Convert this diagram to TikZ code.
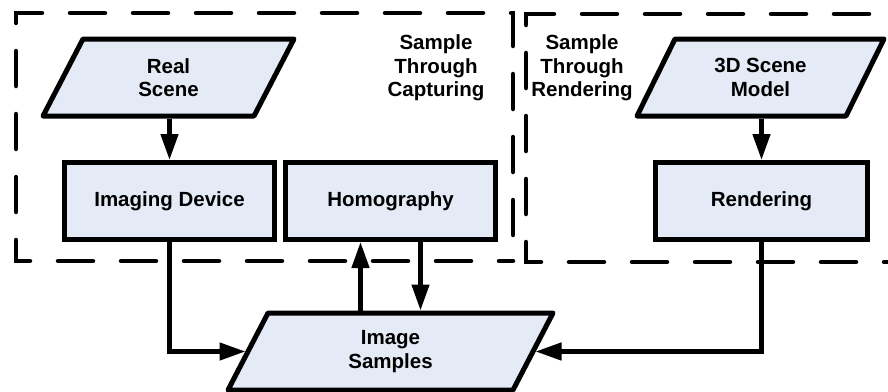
\documentclass[tikz,border=0pt]{standalone}
\usepackage{fontspec}
\setmainfont{Liberation Sans}
\usetikzlibrary{arrows.meta,backgrounds}
\definecolor{boxfill}{RGB}{228,234,246}
\begin{document}
\begin{tikzpicture}[x=1pt,y=-1pt,
  txt/.style={align=center, font=\bfseries\fontsize{20.5}{23.5}\selectfont},
  box/.style={txt, draw, line width=5pt, fill=boxfill, minimum width=210pt,
    minimum height=77pt, inner sep=0pt},
  para/.style={txt, inner sep=0pt, minimum height=77pt, outer sep=2.5pt},
  paradraw/.style={draw, line width=5pt, fill=boxfill, line join=round},
  conn/.style={line width=4.5pt, -{Triangle[length=26pt,width=17pt]}},
  group/.style={line width=4.5pt, dash pattern=on 35pt off 28pt, line cap=round},
]
\useasboundingbox (0,0) rectangle (888,391);

% group frames
\draw[group] (16,22) -- (16,13) -- (513,13) -- (513,261);
\draw[group, dash phase=34pt] (16,22) -- (16,261) -- (513,261);
\draw[group] (526,21) -- (526,14) -- (905,14);
\draw[group, dash phase=31pt] (526,21) -- (526,262) -- (905,262);

% nodes
\node[para, minimum width=211pt] (real) at (168.5,77.5) {Real\\Scene};
\node[para, minimum width=209pt] (model) at (760.5,77.5) {3D Scene\\Model};
\node[para, minimum width=285pt] (samples) at (390.5,351.5) {Image\\Samples};
\node[box] (imgdev) at (169.5,201) {Imaging Device};
\node[box] (homog) at (390.5,201) {Homography};
\node[box, minimum width=212pt] (render) at (761.5,201) {Rendering};

\node[txt] (capt) at (436,68) {Sample\\Through\\Capturing};
\node[txt] (rendlbl) at (582,68) {Sample\\Through\\Rendering};

% parallelogram outlines
\begin{scope}[on background layer]
\foreach \n/\s in {real/20, model/19, samples/20}{
  \draw[paradraw]
    ([xshift=\s pt, xshift=2.5pt, yshift=-2.5pt]\n.north west)
    -- ([xshift=\s pt, xshift=-2.5pt, yshift=-2.5pt]\n.north east)
    -- ([xshift=-\s pt, xshift=-2.5pt, yshift=2.5pt]\n.south east)
    -- ([xshift=-\s pt, xshift=2.5pt, yshift=2.5pt]\n.south west)
    -- cycle;
}
\end{scope}

% connectors
\draw[conn] (imgdev.north |- real.south) -- (imgdev.north);
\draw[conn] (render.north |- model.south) -- (render.north);
\draw[conn] (imgdev.south) |- (samples.west);
\draw[conn] (render.south) |- (samples.east);
\draw[conn] ([xshift=-30pt]samples.north) -- ([xshift=-30pt]samples.north |- homog.south);
\draw[conn] ([xshift=30pt]samples.north |- homog.south) -- ([xshift=30pt]samples.north);
\end{tikzpicture}
\end{document}
